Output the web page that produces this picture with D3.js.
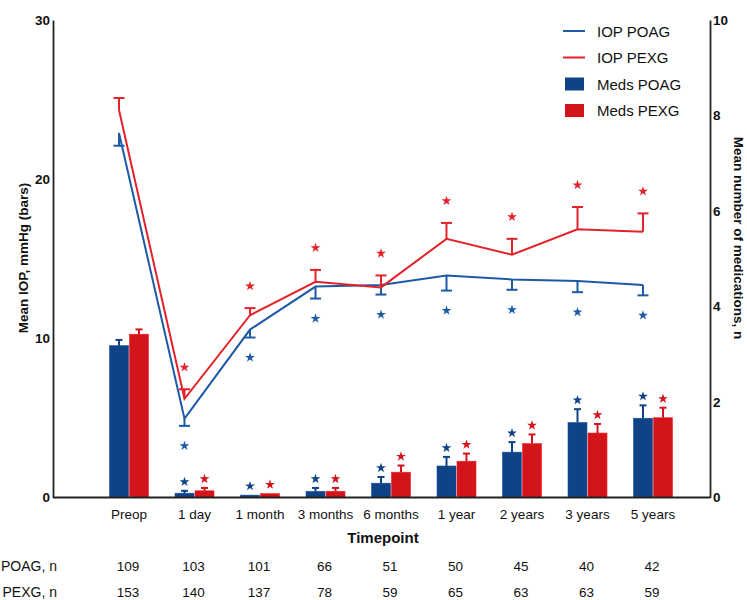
<!DOCTYPE html>
<html>
<head>
<meta charset="utf-8">
<script src="https://cdn.jsdelivr.net/npm/d3@7"></script>
<style>
    body { margin: 0; background: #fff; }
    svg text { font-family: "Liberation Sans", Arial, sans-serif; fill: #111; }
</style>
</head>
<body>
<div id="chart"></div>
<script>
// values
const timepoints = ['Preop', '1 day', '1 month', '3 months', '6 months', '1 year', '2 years', '3 years', '5 years'];

const iopPoag    = [22.9, 4.95, 10.55, 13.25, 13.35, 13.95, 13.7, 13.6, 13.35];
const iopPoagErr = [0.8, 0.45, 0.5, 0.75, 0.6, 0.95, 0.65, 0.7, 0.65];
const iopPexg    = [24.35, 6.2, 11.45, 13.55, 13.2, 16.25, 15.25, 16.85, 16.7];
const iopPexgErr = [0.75, 0.6, 0.45, 0.75, 0.75, 1.0, 1.0, 1.4, 1.15];

const medsPoag    = [3.18, 0.09, 0.05, 0.13, 0.3, 0.66, 0.95, 1.57, 1.66];
const medsPoagErr = [0.12, 0.05, 0, 0.07, 0.13, 0.19, 0.21, 0.28, 0.27];
const medsPexg    = [3.42, 0.14, 0.08, 0.13, 0.53, 0.76, 1.13, 1.35, 1.67];
const medsPexgErr = [0.1, 0.06, 0, 0.07, 0.14, 0.16, 0.19, 0.19, 0.21];

// significance markers (1 = starred)
const significant = [0, 1, 1, 1, 1, 1, 1, 1, 1];

const nPoag = [109, 103, 101, 66, 51, 50, 45, 40, 42];
const nPexg = [153, 140, 137, 78, 59, 65, 63, 63, 59];

const iopTicks = [0, 10, 20, 30];
const medsTicks = [0, 2, 4, 6, 8, 10];

const colors = {
    poagLine: '#1c5aa6',
    pexgLine: '#e3222a',
    poagBar: '#0f4386',
    pexgBar: '#d2141b',
    axis: '#222'
};

const width = 747, height = 600;
const plot = { left: 53, right: 710, top: 20, bottom: 497.5 };

const svg = d3.select('#chart')
    .append('svg')
    .attr('width', width)
    .attr('height', height);

const x = d3.scalePoint()
    .domain(timepoints)
    .range([129, 653]);

const yIop = d3.scaleLinear().domain([0, 30]).range([plot.bottom, plot.top]);
const yMeds = d3.scaleLinear().domain([0, 10]).range([plot.bottom, plot.top]);

const barW = 19;
const star = d3.symbol().type(d3.symbolStar).size(30);

// bars (medications, right axis)
const barSeries = [
    { vals: medsPoag, errs: medsPoagErr, color: colors.poagBar, dx: -barW - 0.5 },
    { vals: medsPexg, errs: medsPexgErr, color: colors.pexgBar, dx: 0.5 }
];

barSeries.forEach(s => {
    const g = svg.append('g');
    timepoints.forEach((t, i) => {
        const x0 = x(t) + s.dx;
        const cx = x0 + barW / 2;
        g.append('rect')
            .attr('x', x0)
            .attr('y', yMeds(s.vals[i]))
            .attr('width', barW)
            .attr('height', plot.bottom - yMeds(s.vals[i]))
            .attr('fill', s.color)
            .attr('stroke', d3.color(s.color).brighter(0.6))
            .attr('stroke-width', 0.6);
        let topY = yMeds(s.vals[i]);
        if (s.errs[i] > 0) {
            topY = yMeds(s.vals[i] + s.errs[i]);
            g.append('line')
                .attr('x1', cx).attr('x2', cx)
                .attr('y1', yMeds(s.vals[i])).attr('y2', topY)
                .attr('stroke', s.color).attr('stroke-width', 2);
            g.append('line')
                .attr('x1', cx - 3.5).attr('x2', cx + 3.5)
                .attr('y1', topY).attr('y2', topY)
                .attr('stroke', s.color).attr('stroke-width', 2);
        }
        if (significant[i]) {
            g.append('path')
                .attr('d', star)
                .attr('transform', `translate(${cx}, ${topY - 9})`)
                .attr('fill', s.color);
        }
    });
});

// IOP lines (left axis), drawn at the POAG bar centre
const lineX = t => x(t) - barW / 2 - 0.5;

const lineSeries = [
    { vals: iopPoag, errs: iopPoagErr, color: colors.poagLine, dir: -1, starGap: 20 },
    { vals: iopPexg, errs: iopPexgErr, color: colors.pexgLine, dir: 1, starGap: -22 }
];

lineSeries.forEach(s => {
    const g = svg.append('g');
    const line = d3.line()
        .x((d, i) => lineX(timepoints[i]))
        .y(d => yIop(d));
    g.append('path')
        .datum(s.vals)
        .attr('d', line)
        .attr('fill', 'none')
        .attr('stroke', s.color)
        .attr('stroke-width', 2);

    timepoints.forEach((t, i) => {
        const cx = lineX(t);
        const ey = yIop(s.vals[i] + s.dir * s.errs[i]);
        g.append('line')
            .attr('x1', cx).attr('x2', cx)
            .attr('y1', yIop(s.vals[i])).attr('y2', ey)
            .attr('stroke', s.color).attr('stroke-width', 2);
        g.append('line')
            .attr('x1', cx - 5.5).attr('x2', cx + 5.5)
            .attr('y1', ey).attr('y2', ey)
            .attr('stroke', s.color).attr('stroke-width', 2);
        if (significant[i]) {
            g.append('path')
                .attr('d', star)
                .attr('transform', `translate(${cx}, ${ey + s.starGap})`)
                .attr('fill', s.color);
        }
    });
});

// axes
const leftAxis = d3.axisLeft(yIop).tickValues(iopTicks).tickSize(0).tickPadding(3);
const rightAxis = d3.axisRight(yMeds).tickValues(medsTicks).tickSize(0).tickPadding(3);

const gl = svg.append('g').attr('transform', `translate(${plot.left}, 0)`).call(leftAxis);
const gr = svg.append('g').attr('transform', `translate(${plot.right}, 0)`).call(rightAxis);

[gl, gr].forEach(g => {
    g.select('.domain').attr('stroke', colors.axis).attr('stroke-width', 1.8);
    g.selectAll('text')
        .attr('font-size', 13.5)
        .attr('font-weight', 'bold')
        .attr('fill', '#111');
});

svg.append('line')
    .attr('x1', plot.left).attr('x2', plot.right)
    .attr('y1', plot.bottom).attr('y2', plot.bottom)
    .attr('stroke', colors.axis)
    .attr('stroke-width', 1.8);

// x labels
svg.append('g')
    .selectAll('text')
    .data(timepoints)
    .enter()
    .append('text')
    .attr('x', d => x(d))
    .attr('y', 519)
    .attr('text-anchor', 'middle')
    .attr('font-size', 13.5)
    .text(d => d);

svg.append('text')
    .attr('x', 383)
    .attr('y', 543)
    .attr('text-anchor', 'middle')
    .attr('font-size', 15)
    .attr('font-weight', 'bold')
    .text('Timepoint');

// axis titles
svg.append('text')
    .attr('transform', 'translate(28, 258) rotate(-90)')
    .attr('text-anchor', 'middle')
    .attr('font-size', 13.5)
    .attr('font-weight', 'bold')
    .text('Mean IOP, mmHg (bars)');

svg.append('text')
    .attr('transform', 'translate(734, 238) rotate(90)')
    .attr('text-anchor', 'middle')
    .attr('font-size', 13.5)
    .attr('font-weight', 'bold')
    .text('Mean number of medications, n');

// n table
const rows = [
    { label: 'POAG, n', vals: nPoag, y: 570.5 },
    { label: 'PEXG, n', vals: nPexg, y: 597 }
];
rows.forEach(r => {
    svg.append('text')
        .attr('x', 57)
        .attr('y', r.y)
        .attr('text-anchor', 'end')
        .attr('font-size', 14)
        .text(r.label);
    svg.append('g')
        .selectAll('text')
        .data(r.vals)
        .enter()
        .append('text')
        .attr('x', (d, i) => x(timepoints[i]) - 1)
        .attr('y', r.y)
        .attr('text-anchor', 'middle')
        .attr('font-size', 13.5)
        .text(d => d);
});

// legend
const legend = svg.append('g');
const legendItems = [
    { label: 'IOP POAG', color: colors.poagLine, type: 'line' },
    { label: 'IOP PEXG', color: colors.pexgLine, type: 'line' },
    { label: 'Meds POAG', color: colors.poagBar, type: 'rect' },
    { label: 'Meds PEXG', color: colors.pexgBar, type: 'rect' }
];
legendItems.forEach((d, i) => {
    const cy = 31 + i * 26.5;
    if (d.type === 'line') {
        legend.append('line')
            .attr('x1', 563).attr('x2', 585)
            .attr('y1', cy).attr('y2', cy)
            .attr('stroke', d.color).attr('stroke-width', 2);
    } else {
        legend.append('rect')
            .attr('x', 565).attr('y', cy - 6.5)
            .attr('width', 19).attr('height', 13)
            .attr('fill', d.color);
    }
    legend.append('text')
        .attr('x', 597)
        .attr('y', cy + 5.5)
        .attr('font-size', 15)
        .text(d.label);
});
</script>
</body>
</html>
